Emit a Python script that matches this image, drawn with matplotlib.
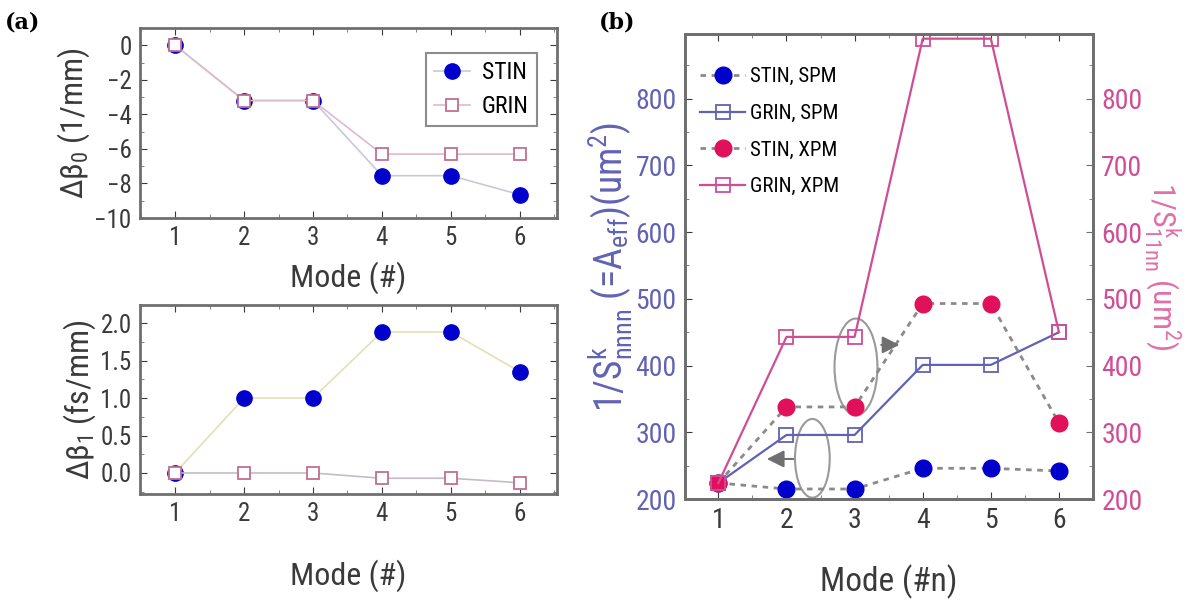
import matplotlib
matplotlib.use("Agg")
import matplotlib.pyplot as plt
from matplotlib.patches import Ellipse
from matplotlib.ticker import MultipleLocator

# --- dados ---
modos = [1, 2, 3, 4, 5, 6]

db0_stin = [0.0, -3.2, -3.2, -7.55, -7.55, -8.65]
db0_grin = [0.0, -3.2, -3.2, -6.3, -6.3, -6.3]

db1_stin = [0.0, 1.0, 1.0, 1.88, 1.88, 1.35]
db1_grin = [0.0, 0.0, 0.0, -0.07, -0.07, -0.13]

spm_stin = [224, 215, 215, 246, 246, 242]
spm_grin = [224, 296, 296, 401, 401, 450]
xpm_stin = [224, 338, 338, 493, 493, 314]
xpm_grin = [224, 443, 443, 890, 890, 450]

plt.rcParams['font.family'] = ['Roboto Condensed', 'DejaVu Sans']
plt.rcParams['mathtext.default'] = 'regular'

AZUL = '#0000cc'
ROSA_M = '#e0105a'
ROSA_Q = '#c07090'
AZUL_L = '#6262b4'
ROSA_L = '#d04d96'
CINZA = '#6f6f6f'
TEXTO = '#3a3a3a'

fig = plt.figure(figsize=(12.03, 6.01), dpi=100)

def estilo(ax, tam):
    for s in ax.spines.values():
        s.set_color(CINZA)
        s.set_linewidth(2)
    ax.tick_params(direction='in', which='both', top=True, right=True, color=CINZA)
    ax.tick_params(which='major', length=5, labelsize=tam, colors=TEXTO, pad=6)
    ax.tick_params(which='minor', length=3)
    ax.xaxis.set_minor_locator(MultipleLocator(0.5))

# --- (a) topo ---
ax1 = fig.add_axes([140 / 1203, 1 - 218 / 601, 417 / 1203, 190 / 601])
ax1.plot(modos, db0_stin, '-o', color='#c8c8dc', lw=1.2, mfc=AZUL, mec=AZUL, ms=11, label='STIN')
ax1.plot(modos, db0_grin, '-s', color='#dcbccc', lw=1.2, mfc='white', mec=ROSA_Q, ms=9, mew=1.3,
         label='GRIN')
ax1.set_xlim(0.49, 6.54)
ax1.set_ylim(-10, 1)
ax1.set_yticks([0, -2, -4, -6, -8, -10])
ax1.set_xticks(modos)
ax1.yaxis.set_minor_locator(MultipleLocator(1))
estilo(ax1, 18)
ax1.set_xlabel('Mode (#)', fontsize=23, color=TEXTO, labelpad=8)
ax1.set_ylabel('Δβ$_0$ (1/mm)', fontsize=23, color=TEXTO, labelpad=2)
leg = ax1.legend(loc='upper right', bbox_to_anchor=(0.98, 0.93), fontsize=17, handlelength=1.5,
                 borderpad=0.35, labelspacing=0.45, fancybox=False, edgecolor=CINZA,
                 handletextpad=0.5)
leg.get_frame().set_linewidth(1.5)

# --- (a) baixo ---
ax2 = fig.add_axes([140 / 1203, 1 - 494 / 601, 417 / 1203, 189 / 601])
ax2.plot(modos, db1_stin, '-o', color='#e4e0b4', lw=1.2, mfc=AZUL, mec=AZUL, ms=11)
ax2.plot(modos, db1_grin, '-s', color='#c4bcc4', lw=1.2, mfc='white', mec=ROSA_Q, ms=9, mew=1.3)
ax2.set_xlim(0.49, 6.54)
ax2.set_ylim(-0.28, 2.24)
ax2.set_yticks([0.0, 0.5, 1.0, 1.5, 2.0])
ax2.set_yticklabels(['0.0', '0.5', '1.0', '1.5', '2.0'])
ax2.set_xticks(modos)
ax2.yaxis.set_minor_locator(MultipleLocator(0.25))
estilo(ax2, 18)
ax2.set_xlabel('Mode (#)', fontsize=23, color=TEXTO, labelpad=24)
ax2.set_ylabel('Δβ$_1$ (fs/mm)', fontsize=23, color=TEXTO, labelpad=2)

# --- (b) ---
ax3 = fig.add_axes([685 / 1203, 1 - 499 / 601, 408 / 1203, 465 / 601])
ax3.plot(modos, spm_stin, '--o', color='#8a8a8a', lw=2, dashes=(2, 2), mfc=AZUL, mec=AZUL, ms=12,
         label='STIN, SPM')
ax3.plot(modos, spm_grin, '-s', color=AZUL_L, lw=1.6, mfc='none', mec=AZUL_L, ms=10, mew=1.3,
         label='GRIN, SPM')
ax3.plot(modos, xpm_stin, '--o', color='#8a8a8a', lw=2, dashes=(2, 2), mfc=ROSA_M, mec=ROSA_M, ms=12,
         label='STIN, XPM')
ax3.plot(modos, xpm_grin, '-s', color=ROSA_L, lw=1.6, mfc='none', mec=ROSA_L, ms=10, mew=1.3,
         label='GRIN, XPM')
ax3.set_xlim(0.51, 6.5)
ax3.set_ylim(200, 897)
ax3.set_xticks(modos)
ax3.set_yticks([200, 300, 400, 500, 600, 700, 800])
ax3.yaxis.set_minor_locator(MultipleLocator(50))
estilo(ax3, 20)
ax3.tick_params(axis='y', labelcolor=AZUL_L, right=False)
ax3.set_xlabel('Mode (#n)', fontsize=24, color=TEXTO, labelpad=22)
ax3.set_ylabel('1/S$^k_{nnnn}$ (=A$_{eff}$)(um$^2$)', fontsize=27, color=AZUL_L, labelpad=0)
ax3.legend(loc='upper left', bbox_to_anchor=(0.0, 0.96), fontsize=15, frameon=False,
           handlelength=2.2, labelspacing=0.85, handletextpad=0.2, borderaxespad=0.3)

ax4 = ax3.twinx()
ax4.set_ylim(ax3.get_ylim())
ax4.set_yticks([200, 300, 400, 500, 600, 700, 800])
ax4.yaxis.set_minor_locator(MultipleLocator(50))
ax4.tick_params(axis='y', direction='in', which='both', labelsize=20, labelcolor=ROSA_L, color=CINZA)
ax4.tick_params(which='major', length=5, pad=6)
ax4.tick_params(which='minor', length=3)
for s in ax4.spines.values():
    s.set_color(CINZA)
    s.set_linewidth(2)
ax4.set_ylabel('1/S$^k_{11nn}$ (um$^2$)', fontsize=23, color='#e070a8', rotation=-90)
ax4.yaxis.set_label_coords(1.17, 0.5)
ax4.yaxis.label.set_va('center')
ax4.yaxis.label.set_ha('center')

# elipses e setas
ax3.add_patch(Ellipse((3.02, 398), 0.63, 145, fill=False, ec='#9a9a9a', lw=1.5))
ax3.add_patch(Ellipse((2.38, 261), 0.51, 118, fill=False, ec='#9a9a9a', lw=1.5))
ax3.annotate('', xy=(3.70, 431), xytext=(3.35, 431),
             arrowprops=dict(arrowstyle='-|>', color='#707070', lw=1.5, mutation_scale=26))
ax3.annotate('', xy=(1.67, 260), xytext=(2.14, 260),
             arrowprops=dict(arrowstyle='-|>', color='#707070', lw=1.5, mutation_scale=26))

fig.text(0.004, 0.952, '(a)', fontsize=16, fontweight='bold', family='DejaVu Serif')
fig.text(0.498, 0.952, '(b)', fontsize=16, fontweight='bold', family='DejaVu Serif')

fig.savefig('out.png', dpi=100)
